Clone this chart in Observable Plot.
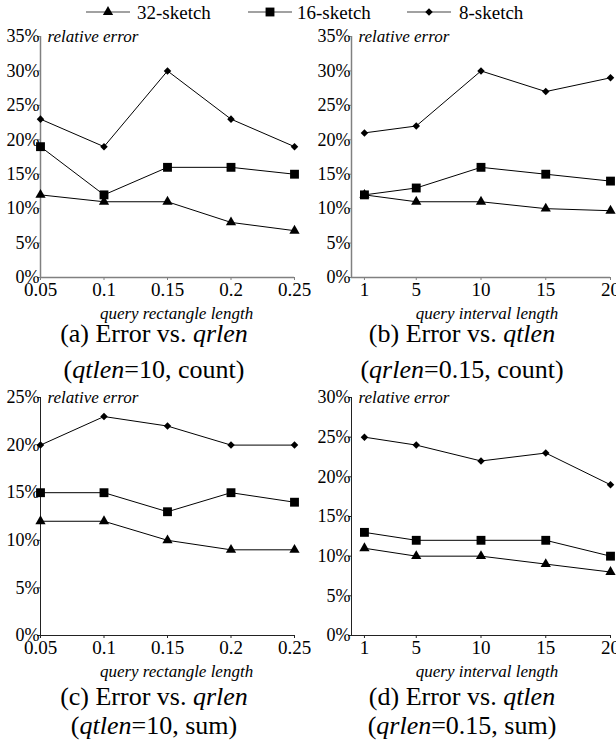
<!DOCTYPE html>
<html>
<head>
<meta charset="utf-8">
<script src="https://cdn.jsdelivr.net/npm/d3@7"></script>
<script src="https://cdn.jsdelivr.net/npm/@observablehq/plot@0.6"></script>
<style>
  html, body { margin: 0; padding: 0; background: #fff; }
  #root { position: relative; width: 616px; height: 740px; overflow: hidden; font-family: "Liberation Serif", "Times New Roman", serif; color: #000; }
  #root svg, #root svg text { font-family: "Liberation Serif", "Times New Roman", serif !important; }
  .abs { position: absolute; }
  .cap { position: absolute; width: 308px; height: 30px; text-align: center; font-size: 26px; line-height: 30px; white-space: nowrap; }
  .cap i { font-style: italic; }
</style>
</head>
<body>
<div id="root"></div>
<script>
// ---- data ----
const seriesNames = ["32-sketch", "16-sketch", "8-sketch"];
const xRect = [0.05, 0.1, 0.15, 0.2, 0.25];
const xInterval = [1, 5, 10, 15, 20];

const a32 = [12, 11, 11, 8, 6.8];
const a16 = [19, 12, 16, 16, 15];
const a8  = [23, 19, 30, 23, 19];

const b32 = [12, 11, 11, 10, 9.7];
const b16 = [12, 13, 16, 15, 14];
const b8  = [21, 22, 30, 27, 29];

const c32 = [12, 12, 10, 9, 9];
const c16 = [15, 15, 13, 15, 14];
const c8  = [20, 23, 22, 20, 20];

const d32 = [11, 10, 10, 9, 8];
const d16 = [13, 12, 12, 12, 10];
const d8  = [25, 24, 22, 23, 19];

const yTicks35 = [0, 5, 10, 15, 20, 25, 30, 35];
const yTicks25 = [0, 5, 10, 15, 20, 25];
const yTicks30 = [0, 5, 10, 15, 20, 25, 30];

const xLabelRect = "query rectangle length";
const xLabelInterval = "query interval length";
const yLabel = "relative error";

// ---- helpers ----
const FONT = "Liberation Serif, Times New Roman, serif";
const symbols = {
  "32-sketch": {symbol: "triangle", r: 3.8},
  "16-sketch": {symbol: "square", r: 5.0},
  "8-sketch":  {symbol: d3.symbolDiamond2, r: 3.4}
};

function rows(xs, s32, s16, s8) {
  const out = [];
  [s32, s16, s8].forEach((vals, k) => {
    xs.forEach((x, i) => out.push({x, y: vals[i], s: seriesNames[k]}));
  });
  return out;
}

function panel({data, xs, xDomain, yDomain, yTicks, xLabel, marginLeft, marginRight, marginTop, marginBottom, axisColor, axisWidth, labelDx}) {
  const marks = [
    Plot.ruleY([yDomain[0]], {stroke: axisColor, strokeWidth: axisWidth}),
    Plot.ruleX([xDomain[0]], {stroke: axisColor, strokeWidth: axisWidth}),
    Plot.axisY({ticks: yTicks, tickSize: 3, tickPadding: -2, tickFormat: d => d + "%", fontSize: 18, fontFamily: FONT, label: null, stroke: axisColor, fill: "#000"}),
    Plot.axisX({ticks: xs, tickSize: 3, tickPadding: 2, tickFormat: d => String(d), fontSize: 19, fontFamily: FONT, label: null, stroke: axisColor, fill: "#000"}),
    Plot.line(data, {x: "x", y: "y", z: "s", stroke: "#000", strokeWidth: 1})
  ];
  for (const s of seriesNames) {
    marks.push(Plot.dot(data.filter(d => d.s === s), {x: "x", y: "y", symbol: symbols[s].symbol, r: symbols[s].r, fill: "#000", stroke: "none"}));
  }
  marks.push(Plot.text([yLabel], {text: d => d, frameAnchor: "top-left", dx: 7, textAnchor: "start", lineAnchor: "middle", fontStyle: "italic", fontSize: 17, fontFamily: FONT, fill: "#000"}));
  marks.push(Plot.text([xLabel], {text: d => d, frameAnchor: "bottom", dx: labelDx, dy: 36, lineAnchor: "middle", fontStyle: "italic", fontSize: 17, fontFamily: FONT, fill: "#000"}));
  return Plot.plot({
    width: 308, height: 300,
    marginLeft, marginRight, marginTop, marginBottom,
    x: {type: "linear", domain: xDomain},
    y: {type: "linear", domain: yDomain},
    style: {fontFamily: FONT, background: "transparent", overflow: "visible", color: "#000"},
    marks
  });
}

const root = document.getElementById("root");
function place(el, left, top) {
  el.classList.add("abs");
  el.style.left = left + "px";
  el.style.top = top + "px";
  root.appendChild(el);
}

// ---- legend ----
(function legend() {
  const svg = d3.create("svg").attr("width", 616).attr("height", 26);
  const items = [
    {name: seriesNames[0], x0: 86, x1: 130, tx: 137, sym: d3.symbolTriangle, size: Math.PI * 3.8 * 3.8},
    {name: seriesNames[1], x0: 248, x1: 292, tx: 297, sym: d3.symbolSquare, size: Math.PI * 5 * 5},
    {name: seriesNames[2], x0: 407, x1: 451, tx: 459, sym: d3.symbolDiamond2, size: Math.PI * 3.4 * 3.4}
  ];
  const cy = 12;
  for (const it of items) {
    svg.append("line").attr("x1", it.x0).attr("x2", it.x1).attr("y1", cy).attr("y2", cy)
      .attr("stroke", "#444").attr("stroke-width", 1.2);
    svg.append("path").attr("d", d3.symbol(it.sym, it.size)())
      .attr("transform", `translate(${(it.x0 + it.x1) / 2},${cy})`).attr("fill", "#000");
    svg.append("text").attr("x", it.tx).attr("y", cy).attr("dy", "0.35em")
      .attr("font-size", 19).attr("fill", "#000").text(it.name);
  }
  place(svg.node(), 0, 0);
})();

// ---- panels ----
const topY = 25, botY = 385;

place(panel({data: rows(xRect, a32, a16, a8), xs: xRect, xDomain: [0.05, 0.25], yDomain: [0, 35], yTicks: yTicks35,
  xLabel: xLabelRect, marginLeft: 40, marginRight: 14, marginTop: 11, marginBottom: 48, axisColor: "#808080", axisWidth: 1.5, labelDx: 9}), 0, topY);

place(panel({data: rows(xInterval, b32, b16, b8), xs: xInterval, xDomain: [0, 20], yDomain: [0, 35], yTicks: yTicks35,
  xLabel: xLabelInterval, marginLeft: 43, marginRight: 6, marginTop: 11, marginBottom: 48, axisColor: "#808080", axisWidth: 1.5, labelDx: 6}), 308, topY);

place(panel({data: rows(xRect, c32, c16, c8), xs: xRect, xDomain: [0.05, 0.25], yDomain: [0, 25], yTicks: yTicks25,
  xLabel: xLabelRect, marginLeft: 40, marginRight: 14, marginTop: 12, marginBottom: 50, axisColor: "#222", axisWidth: 1, labelDx: 9}), 0, botY);

place(panel({data: rows(xInterval, d32, d16, d8), xs: xInterval, xDomain: [0, 20], yDomain: [0, 30], yTicks: yTicks30,
  xLabel: xLabelInterval, marginLeft: 43, marginRight: 6, marginTop: 12, marginBottom: 50, axisColor: "#222", axisWidth: 1, labelDx: 6}), 308, botY);

// ---- captions (one div per line, positioned by line centre) ----
function caption(left, centerY, html) {
  const div = document.createElement("div");
  div.className = "cap";
  div.style.left = left + "px";
  div.style.top = (centerY - 15) + "px";
  div.innerHTML = html;
  root.appendChild(div);
}
caption(0, 334, "(a) Error vs. <i>qrlen</i>");
caption(0, 370, "(<i>qtlen</i>=10, count)");
caption(308, 334, "(b) Error vs. <i>qtlen</i>");
caption(308, 370, "(<i>qrlen</i>=0.15, count)");
caption(0, 697, "(c) Error vs. <i>qrlen</i>");
caption(0, 726, "(<i>qtlen</i>=10, sum)");
caption(308, 697, "(d) Error vs. <i>qtlen</i>");
caption(308, 726, "(<i>qrlen</i>=0.15, sum)");
</script>
</body>
</html>
